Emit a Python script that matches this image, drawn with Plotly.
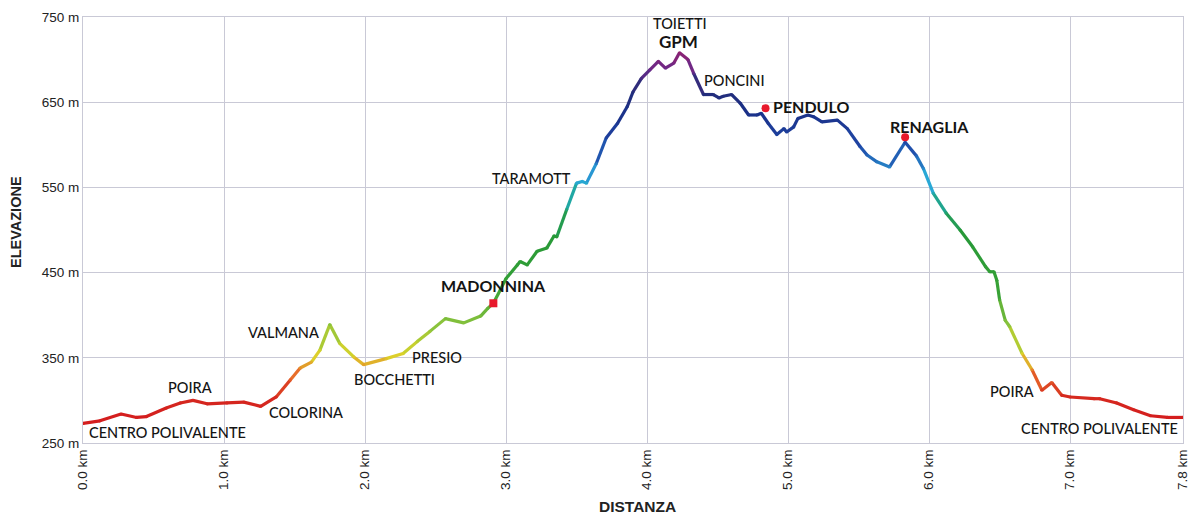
import plotly.graph_objects as go
from plotly.colors import sample_colorscale

# ---- data ----
dist_km = [0.00, 0.12, 0.27, 0.38, 0.45, 0.59, 0.69, 0.78, 0.88, 1.02, 1.14, 1.26, 1.37, 1.47,
           1.54, 1.62, 1.68, 1.75, 1.82, 1.92, 1.99, 2.15, 2.27, 2.37, 2.46, 2.57, 2.70, 2.82,
           2.87, 2.91, 2.96, 3.00, 3.08, 3.10, 3.15, 3.22, 3.29, 3.34, 3.36, 3.43, 3.50, 3.54,
           3.57, 3.64, 3.71, 3.79, 3.86, 3.90, 3.96, 4.02, 4.08, 4.13, 4.19, 4.23, 4.29, 4.33,
           4.40, 4.47, 4.51, 4.54, 4.60, 4.66, 4.72, 4.78, 4.81, 4.86, 4.92, 4.97, 4.99, 5.04,
           5.07, 5.14, 5.18, 5.24, 5.35, 5.42, 5.51, 5.56, 5.63, 5.72, 5.83, 5.91, 5.96, 6.03,
           6.12, 6.22, 6.31, 6.40, 6.43, 6.46, 6.48, 6.50, 6.54, 6.57, 6.66, 6.73, 6.80, 6.87,
           6.94, 7.00, 7.17, 7.21, 7.33, 7.45, 7.57, 7.69, 7.80]
elev_m = [273, 276, 284, 280, 281, 291, 297, 300, 296, 297, 298, 293, 304, 324,
          338, 345, 359, 389, 367, 351, 342, 349, 355, 369, 381, 396, 391, 399,
          408, 414, 430, 443, 459, 463, 459, 475, 479, 493, 492, 524, 555, 557,
          555, 578, 608, 625, 645, 662, 678, 688, 698, 690, 696, 708, 700, 684,
          659, 659, 655, 657, 659, 649, 635, 635, 637, 625, 612, 619, 615, 621,
          631, 635, 633, 627, 629, 619, 598, 588, 580, 574, 603, 587, 572, 543,
          520, 500, 480, 457, 451, 451, 441, 418, 394, 387, 355, 336, 312, 321,
          306, 304, 302, 302, 297, 289, 282, 280, 280]

point_names = ["MADONNINA", "PENDULO", "RENAGLIA"]
point_km = [2.91, 4.84, 5.83]
point_elev = [414, 643, 609]
point_symbols = ["square", "circle", "circle"]

label_text = ["CENTRO POLIVALENTE", "POIRA", "COLORINA", "VALMANA", "BOCCHETTI", "PRESIO",
              "MADONNINA", "TARAMOTT", "TOIETTI", "GPM", "PONCINI", "PENDULO", "RENAGLIA",
              "POIRA", "CENTRO POLIVALENTE"]
label_km = [0.03, 0.76, 1.58, 1.42, 2.21, 2.51, 2.91, 3.18, 4.23, 4.22, 4.62, 5.16, 6.00, 6.59, 7.78]
label_elev = [262, 315, 286, 380, 324, 350, 435, 561, 742, 721, 676, 645, 622, 311, 267]
label_bold = [False, False, False, False, False, False, True, False, False, True, False, True, True, False, False]
label_anchor = ["left", "center", "center", "center", "center", "center", "center", "center",
                "center", "center", "center", "center", "center", "center", "right"]

x_tickvals = [0, 1, 2, 3, 4, 5, 6, 7, 7.8]
x_ticktext = ["0.0 km", "1.0 km", "2.0 km", "3.0 km", "4.0 km", "5.0 km", "6.0 km", "7.0 km", "7.8 km"]
y_tickvals = [250, 350, 450, 550, 650, 750]
y_ticktext = ["250 m", "350 m", "450 m", "550 m", "650 m", "750 m"]

# colour by elevation
elev_colors = [
    [0.00, "#d41e1e"], [0.06, "#d62a1f"], [0.12, "#e8702a"], [0.17, "#dcd42a"],
    [0.25, "#8cc43c"], [0.35, "#36a136"], [0.51, "#269838"], [0.60, "#1fa8a0"],
    [0.65, "#2aa8dc"], [0.74, "#1f48a8"], [0.84, "#1a2f86"], [0.90, "#262c78"],
    [0.95, "#6a2a8a"], [1.00, "#92206e"],
]
emin, emax = 280, 710


def col(e):
    t = min(max((e - emin) / (emax - emin), 0), 1)
    return sample_colorscale(elev_colors, [t])[0]


fig = go.Figure()
for i in range(len(dist_km) - 1):
    fig.add_trace(go.Scatter(
        x=dist_km[i:i + 2], y=elev_m[i:i + 2], mode="lines",
        line=dict(color=col((elev_m[i] + elev_m[i + 1]) / 2), width=3.2),
        showlegend=False, hoverinfo="skip", cliponaxis=False))
fig.add_trace(go.Scatter(
    x=dist_km, y=elev_m, mode="markers",
    marker=dict(size=3.2, color=[col(e) for e in elev_m]),
    showlegend=False, hoverinfo="skip"))

fig.add_trace(go.Scatter(
    x=point_km, y=point_elev, mode="markers", text=point_names,
    marker=dict(size=8, color="#e8192c", symbol=point_symbols),
    showlegend=False, hoverinfo="text"))

for t, xk, ye, b, a in zip(label_text, label_km, label_elev, label_bold, label_anchor):
    if b:
        fnt = dict(family="Lato", size=17 if t == "GPM" else 16, color="#141414", weight=700)
    else:
        fnt = dict(family="Lato", size=14.5, color="#141414", weight=500)
    fig.add_annotation(x=xk, y=ye, text=t, showarrow=False, xanchor=a, yanchor="middle", font=fnt)

# axis titles
fig.add_annotation(xref="paper", yref="paper", x=(637 - 83) / 1100, y=(443 - 506) / 426,
                   text="<b>DISTANZA</b>", showarrow=False, xanchor="center", yanchor="middle",
                   font=dict(family="Liberation Sans", size=15.5, color="#222222"))
fig.add_annotation(xref="paper", yref="paper", x=(16 - 83) / 1100, y=(443 - 222) / 426,
                   text="<b>ELEVAZIONE</b>", showarrow=False, xanchor="center", yanchor="middle",
                   textangle=-90, font=dict(family="Liberation Sans", size=14.5, color="#222222"))

axis_common = dict(showgrid=True, gridcolor="#c9c9d6", gridwidth=1, zeroline=False,
                   showline=True, linecolor="#c9c9d6", linewidth=1, mirror=True, automargin=False,
                   ticks="", ticklabeloverflow="allow",
                   tickfont=dict(family="Liberation Sans", size=13.5, color="#222222"))

fig.update_layout(
    width=1189, height=515,
    margin=dict(l=83, r=6, t=17, b=72),
    paper_bgcolor="white", plot_bgcolor="white",
    xaxis=dict(range=[0, 7.8005], tickvals=x_tickvals, ticktext=x_ticktext, tickangle=-90,
               **axis_common),
    yaxis=dict(range=[250, 750], tickvals=y_tickvals, ticktext=y_ticktext, **axis_common),
)

fig.write_html("out.html", config={"displayModeBar": False},
               post_script="document.body.style.margin='0';document.body.style.overflow='hidden';")
